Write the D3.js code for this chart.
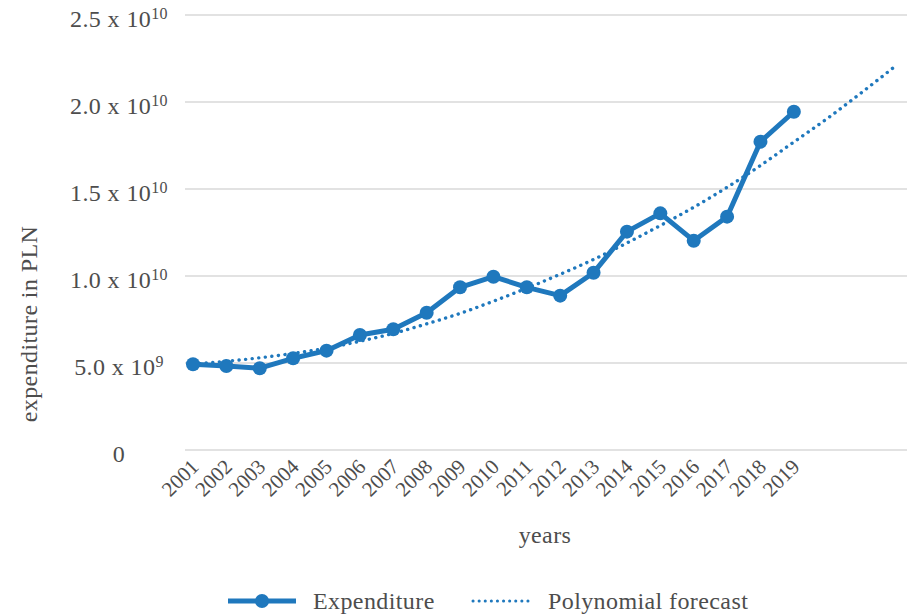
<!DOCTYPE html>
<head>
    <meta charset="utf-8">
    <script src="https://d3js.org/d3.v7.min.js"></script>
    <style>
        *{ margin:0; padding:0; }
        body{ background:#fff; }
        text{ font-family:'Liberation Serif', serif; fill:#4d4d4d; letter-spacing:0.4px; }
    </style>
</head>
<body>
<svg id="chart"></svg>
<script>
    // data
    const years = d3.range(2001, 2023);          // category slots incl. forecast years
    const yearLabels = d3.range(2001, 2020);     // labelled years
    const expenditure = [4.93e9, 4.83e9, 4.70e9, 5.27e9, 5.71e9, 6.61e9, 6.94e9, 7.89e9, 9.35e9, 9.96e9,
                         9.35e9, 8.87e9, 10.19e9, 12.55e9, 13.60e9, 12.03e9, 13.41e9, 17.72e9, 19.44e9];
    const forecast = [4.95e9, 5.1e9, 5.3e9, 5.55e9, 5.85e9, 6.25e9, 6.7e9, 7.25e9, 7.85e9, 8.55e9, 9.3e9,
                      10.1e9, 10.95e9, 11.9e9, 12.9e9, 13.95e9, 15.1e9, 16.35e9, 17.7e9, 19.05e9, 20.5e9, 22.0e9];
    const yTicks = [0, 5e9, 1e10, 1.5e10, 2e10, 2.5e10];
    const yTickBase = ["0", "5.0 x 10", "1.0 x 10", "1.5 x 10", "2.0 x 10", "2.5 x 10"];
    const yTickExp = ["", "9", "10", "10", "10", "10"];

    const width = 907, height = 615;
    const blue = "#1f78bd";

    const svg = d3.select("#chart").attr("width", width).attr("height", height);

    const x = d3.scalePoint().domain(years).range([193, 894]);
    const y = d3.scaleLinear().domain([0, 2.5e10]).range([450, 15]);

    // gridlines
    svg.append("g")
        .selectAll("line")
        .data(yTicks)
        .join("line")
        .attr("x1", 185).attr("x2", width)
        .attr("y1", d => y(d)).attr("y2", d => y(d))
        .attr("stroke", "#d9d9d9")
        .attr("stroke-width", 1.5);

    // y tick labels
    const yl = svg.append("g")
        .selectAll("text")
        .data(yTicks)
        .join("text")
        .attr("x", 119)
        .attr("y", d => y(d) + 4)
        .attr("dy", "0.35em")
        .attr("text-anchor", "middle")
        .style("font-size", "24px");
    yl.append("tspan").text((d, i) => yTickBase[i]);
    yl.append("tspan")
        .attr("dy", "-0.5em")
        .style("font-size", "16px")
        .text((d, i) => yTickExp[i]);

    // x tick labels
    svg.append("g")
        .selectAll("text")
        .data(yearLabels)
        .join("text")
        .attr("text-anchor", "end")
        .attr("transform", d => `translate(${x(d) + 7},${468}) rotate(-45)`)
        .style("font-size", "21px")
        .style("letter-spacing", "0px")
        .text(d => d);

    // axis titles
    svg.append("text")
        .attr("transform", "translate(37,324) rotate(-90)")
        .attr("text-anchor", "middle")
        .style("font-size", "24px")
        .text("expenditure in PLN");

    svg.append("text")
        .attr("x", 545).attr("y", 543)
        .attr("text-anchor", "middle")
        .style("font-size", "24px")
        .text("years");

    // forecast (dotted)
    svg.append("path")
        .datum(forecast)
        .attr("fill", "none")
        .attr("stroke", blue)
        .attr("stroke-width", 3.4)
        .attr("stroke-linecap", "round")
        .attr("stroke-dasharray", "0.1,6.5")
        .attr("d", d3.line().curve(d3.curveMonotoneX).x((d, i) => x(years[i])).y(d => y(d)));

    // expenditure line
    svg.append("path")
        .datum(expenditure)
        .attr("fill", "none")
        .attr("stroke", blue)
        .attr("stroke-width", 5)
        .attr("stroke-linejoin", "round")
        .attr("d", d3.line().x((d, i) => x(years[i])).y(d => y(d)));

    svg.append("g")
        .selectAll("circle")
        .data(expenditure)
        .join("circle")
        .attr("cx", (d, i) => x(years[i]))
        .attr("cy", d => y(d))
        .attr("r", 7)
        .attr("fill", blue);

    // legend
    const lg = svg.append("g").attr("transform", "translate(0,601)");
    lg.append("line").attr("x1", 228).attr("x2", 296)
        .attr("stroke", blue).attr("stroke-width", 5);
    lg.append("circle").attr("cx", 262).attr("r", 7).attr("fill", blue);
    lg.append("text").attr("x", 313).attr("dy", "0.35em")
        .style("font-size", "24px").text("Expenditure");
    lg.append("line").attr("x1", 473).attr("x2", 530)
        .attr("stroke", blue).attr("stroke-width", 3)
        .attr("stroke-linecap", "round").attr("stroke-dasharray", "0.1,6");
    lg.append("text").attr("x", 548).attr("dy", "0.35em")
        .style("font-size", "24px").text("Polynomial forecast");
</script>
</body>
</html>
